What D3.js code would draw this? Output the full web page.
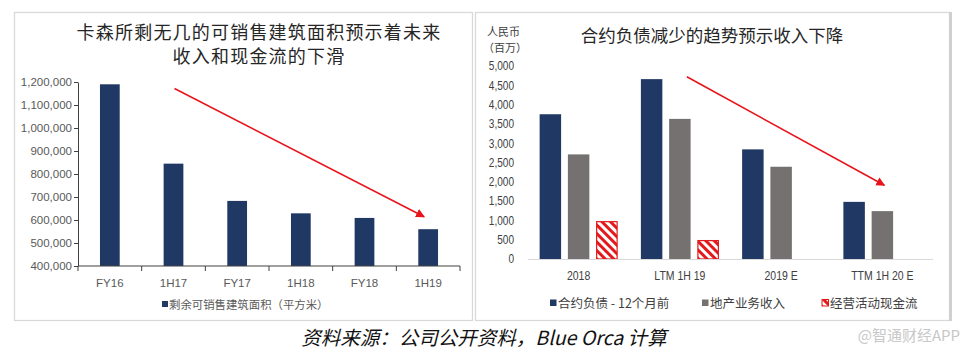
<!DOCTYPE html>
<html><head><meta charset="utf-8">
<script src="https://cdn.jsdelivr.net/npm/d3@7/dist/d3.min.js"></script>
<style>
body{margin:0;background:#fff;}
svg{display:block;}
</style></head>
<body>
<svg id="c" width="970" height="354"></svg>
<script>
// ---------- DATA ----------
const leftTitle = ["卡森所剩无几的可销售建筑面积预示着未来", "收入和现金流的下滑"];
const leftCategories = ["FY16", "1H17", "FY17", "1H18", "FY18", "1H19"];
const leftValues = [1190000, 845000, 683000, 629000, 609000, 560000];
const leftTicks = [400000, 500000, 600000, 700000, 800000, 900000, 1000000, 1100000, 1200000];
const leftSeriesName = "剩余可销售建筑面积（平方米）";
const leftArrow = [["1H17", 1172000], ["1H19", 614000]];

const rightTitle = "合约负债减少的趋势预示收入下降";
const rightUnit = ["人民币", "（百万）"];
const rightCategories = ["2018", "LTM 1H 19", "2019 E", "TTM 1H 20 E"];
const rightSeriesNames = ["合约负债 - 12个月前", "地产业务收入", "经营活动现金流"];
const contractLiab = [3750, 4660, 2840, 1480];
const propertyRevenue = [2710, 3630, 2390, 1240];
const operatingCF = [980, 490, null, null];
const rightTicks = [0, 500, 1000, 1500, 2000, 2500, 3000, 3500, 4000, 4500, 5000];
const rightArrow = [["LTM 1H 19", 4720], ["TTM 1H 20 E", 1910]];

const sourceText = "资料来源：公司公开资料，Blue Orca 计算";
const watermark = "@智通财经APP";

// ---------- STYLE ----------
const NAVY = "#203864", GREY = "#767171", RED = "#e31a1c", ARROW = "#e8141b";
const CJK = "'Noto Sans CJK SC','Noto Sans',sans-serif";
const NUM = "'Liberation Sans',Arial,sans-serif";
const SQ = 0.84; // horizontal squeeze to imitate a narrow face

const svg = d3.select("#c");
const defs = svg.append("defs");

// hatch pattern
const pat = defs.append("pattern").attr("id", "hatch").attr("patternUnits", "userSpaceOnUse")
  .attr("width", 6).attr("height", 6).attr("patternTransform", "rotate(45)");
pat.append("rect").attr("width", 6).attr("height", 6).attr("fill", "#fff");
pat.append("rect").attr("width", 6).attr("height", 3).attr("fill", RED);

// arrow marker
defs.append("marker").attr("id", "ah").attr("viewBox", "0 0 10 10").attr("refX", 9).attr("refY", 5)
  .attr("markerWidth", 9).attr("markerHeight", 9).attr("markerUnits", "userSpaceOnUse").attr("orient", "auto")
  .append("path").attr("d", "M0,0 L10,5 L0,10 Z").attr("fill", ARROW);

// panel frames
svg.append("rect").attr("x", 14.5).attr("y", 12.5).attr("width", 458).attr("height", 308)
  .attr("fill", "none").attr("stroke", "#d9d9d9").attr("stroke-width", 1.3);
svg.append("rect").attr("x", 475.5).attr("y", 12.5).attr("width", 474).attr("height", 308)
  .attr("fill", "none").attr("stroke", "#d9d9d9").attr("stroke-width", 1.3);
svg.append("line").attr("x1", 950.5).attr("x2", 950.5).attr("y1", 12).attr("y2", 321)
  .attr("stroke", "#d0d0d0").attr("stroke-width", 3);

// ---------- LEFT CHART ----------
const L = svg.append("g");
L.selectAll("text.t").data(leftTitle).join("text")
  .attr("x", 259).attr("y", (d, i) => 39 + i * 24).attr("text-anchor", "middle")
  .attr("font-family", CJK).attr("font-size", 18).attr("letter-spacing", 1.2)
  .attr("fill", "#262626").text(d => d);

const lx = d3.scaleBand().domain(leftCategories).range([78, 460]).padding(0);
const ly = d3.scaleLinear().domain([400000, 1200000]).range([266, 82]);
const lbw = lx.bandwidth() * 0.31;

L.selectAll("rect.bar").data(leftCategories).join("rect")
  .attr("x", d => lx(d) + (lx.bandwidth() - lbw) / 2)
  .attr("y", (d, i) => ly(leftValues[i]))
  .attr("width", lbw)
  .attr("height", (d, i) => ly(400000) - ly(leftValues[i]))
  .attr("fill", NAVY);

const lyAxis = L.append("g").attr("transform", "translate(78,0)")
  .call(d3.axisLeft(ly).tickValues(leftTicks).tickFormat(d3.format(",")).tickSize(4).tickSizeOuter(0));
lyAxis.selectAll("line,path").attr("stroke", "#404040");
lyAxis.selectAll("text").attr("font-family", NUM).attr("font-size", 11.5).attr("fill", "#595959").attr("x", -6);

const lxAxis = L.append("g").attr("transform", "translate(0,266)");
lxAxis.append("line").attr("x1", 78).attr("x2", 460).attr("stroke", "#404040");
const bounds = leftCategories.map(d => lx(d)).concat([460]);
lxAxis.selectAll("line.tk").data(bounds).join("line").attr("class", "tk")
  .attr("x1", d => d).attr("x2", d => d).attr("y1", 0).attr("y2", 5).attr("stroke", "#404040");
lxAxis.selectAll("text").data(leftCategories).join("text")
  .attr("x", d => lx(d) + lx.bandwidth() / 2).attr("y", 21).attr("text-anchor", "middle")
  .attr("font-family", NUM).attr("font-size", 11.5).attr("fill", "#595959").text(d => d);

// left legend
L.append("rect").attr("x", 162).attr("y", 301).attr("width", 6).attr("height", 6).attr("fill", NAVY);
L.append("text").attr("x", 169).attr("y", 308.5).attr("font-family", CJK).attr("font-size", 11.4)
  .attr("fill", "#595959").text(leftSeriesName);

// left arrow
L.append("line")
  .attr("x1", lx(leftArrow[0][0]) + lx.bandwidth() / 2 + 1).attr("y1", ly(leftArrow[0][1]))
  .attr("x2", lx(leftArrow[1][0]) + lx.bandwidth() / 2 - 4).attr("y2", ly(leftArrow[1][1]))
  .attr("stroke", ARROW).attr("stroke-width", 1.6).attr("marker-end", "url(#ah)");

// ---------- RIGHT CHART ----------
const R = svg.append("g");
R.append("text").attr("x", 712).attr("y", 42).attr("text-anchor", "middle")
  .attr("font-family", CJK).attr("font-size", 17.5).attr("fill", "#262626").text(rightTitle);
R.append("text").attr("x", 487).attr("y", 36).attr("font-family", CJK).attr("font-size", 11)
  .attr("fill", "#404040").text(rightUnit[0]);
R.append("text").attr("x", 483).attr("y", 52).attr("font-family", CJK).attr("font-size", 11)
  .attr("fill", "#404040").text(rightUnit[1]);

const rx = d3.scaleBand().domain(rightCategories).range([528, 933]).padding(0);
const ry = d3.scaleLinear().domain([0, 5000]).range([259, 66]);
const sub = d3.scaleBand().domain([0, 1, 2]).range([-39, 39]).paddingInner(0.24).paddingOuter(0);

const ryAxis = R.append("g").attr("transform", "translate(516,0)")
  .call(d3.axisLeft(ry).tickValues(rightTicks).tickFormat(d3.format(",")).tickSize(0));
ryAxis.select(".domain").remove();
ryAxis.selectAll("text").attr("font-family", NUM).attr("font-size", 12).attr("fill", "#404040")
  .attr("x", -2 / SQ).attr("transform", `scale(${SQ},1)`);

const series = [contractLiab, propertyRevenue, operatingCF];
const fills = [NAVY, GREY, "url(#hatch)"];
series.forEach((vals, s) => {
  R.selectAll("rect.s" + s).data(rightCategories.filter((d, i) => vals[i] != null)).join("rect")
    .attr("x", d => rx(d) + rx.bandwidth() / 2 + sub(s))
    .attr("y", d => ry(vals[rightCategories.indexOf(d)]) + (s === 2 ? 0.5 : 0))
    .attr("width", sub.bandwidth() - (s === 2 ? 1 : 0))
    .attr("height", d => ry(0) - ry(vals[rightCategories.indexOf(d)]) - (s === 2 ? 0.5 : 0))
    .attr("fill", fills[s])
    .attr("stroke", s === 2 ? RED : "none").attr("stroke-width", 1.2)
    .attr("transform", s === 2 ? "translate(0.5,0)" : null);
});

R.append("line").attr("x1", 528).attr("x2", 933).attr("y1", 259.5).attr("y2", 259.5)
  .attr("stroke", "#d9d9d9").attr("stroke-width", 1);

R.selectAll("text.xl").data(rightCategories).join("text").attr("class", "xl")
  .attr("transform", d => `translate(${rx(d) + rx.bandwidth() / 2},280) scale(${SQ},1)`)
  .attr("text-anchor", "middle")
  .attr("font-family", NUM).attr("font-size", 12.5).attr("fill", "#404040").text(d => d);

// right legend
const legX = [550, 702, 822];
rightSeriesNames.forEach((name, i) => {
  R.append("rect").attr("x", legX[i]).attr("y", 299.5).attr("width", 6.5).attr("height", 6.5)
    .attr("fill", fills[i]).attr("stroke", i === 2 ? RED : "none").attr("stroke-width", 1);
  R.append("text").attr("x", legX[i] + 8).attr("y", 308).attr("font-family", CJK).attr("font-size", 12.5)
    .attr("fill", "#404040").text(name);
});

// right arrow
R.append("line")
  .attr("x1", rx(rightArrow[0][0]) + rx.bandwidth() / 2 + 7).attr("y1", ry(rightArrow[0][1]))
  .attr("x2", rx(rightArrow[1][0]) + rx.bandwidth() / 2 + 2).attr("y2", ry(rightArrow[1][1]))
  .attr("stroke", ARROW).attr("stroke-width", 1.6).attr("marker-end", "url(#ah)");

// ---------- FOOTER ----------
svg.append("text").attr("x", 484).attr("y", 345).attr("text-anchor", "middle")
  .attr("font-family", CJK).attr("font-size", 19.5).attr("font-style", "italic")
  .attr("fill", "#111").text(sourceText);
svg.append("text").attr("x", 960).attr("y", 341).attr("text-anchor", "end")
  .attr("font-family", CJK).attr("font-size", 15).attr("fill", "#c8c8c8").text(watermark);
</script>
</body></html>
